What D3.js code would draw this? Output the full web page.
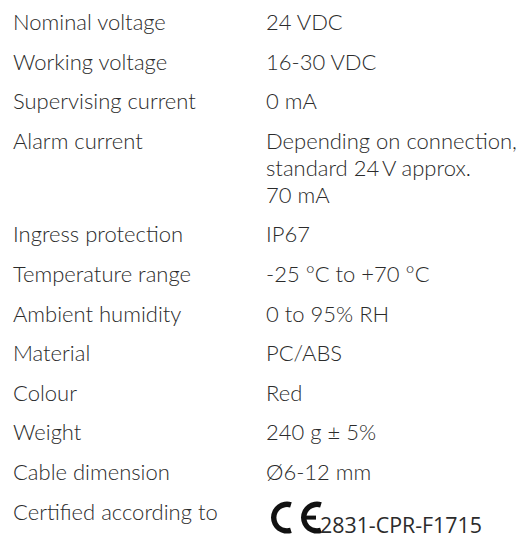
<!DOCTYPE html>
<html>
<head>
<meta charset="utf-8">
<script src="https://cdn.jsdelivr.net/npm/d3@7"></script>
<style>
  html, body { margin: 0; padding: 0; background: #ffffff; }
  svg { display: block; }
</style>
</head>
<body>
<svg id="chart" width="518" height="541"></svg>
<script>
// ---- data ----
const labels = [
  "Nominal voltage",
  "Working voltage",
  "Supervising current",
  "Alarm current",
  "Ingress protection",
  "Temperature range",
  "Ambient humidity",
  "Material",
  "Colour",
  "Weight",
  "Cable dimension",
  "Certified according to"
];
const values = [
  ["24 VDC"],
  ["16-30 VDC"],
  ["0 mA"],
  ["Depending on connection,", "standard 24\u2009V approx.", "70 mA"],
  ["IP67"],
  ["-25 °C to +70 °C"],
  ["0 to 95% RH"],
  ["PC/ABS"],
  ["Red"],
  ["240 g ± 5%"],
  ["Ø6-12 mm"],
  []
];
const certMark = "CE";
const certCode = "2831-CPR-F1715";

// ---- layout ----
const svg = d3.select("#chart");
const fontFamily = "Lato, 'Open Sans', sans-serif";
const fontSize = 22;
const textColor = "#2b2b2b";
const firstBaseline = 30;
const rowGap = 39.6;
const lineGap = 27;

const rowY = [];
let y = firstBaseline;
values.forEach(v => {
  rowY.push(y);
  const n = Math.max(1, v.length);
  y += (n - 1) * lineGap + rowGap;
});

const x = d3.scaleOrdinal().domain(["label", "value"]).range([13, 266]);

const rows = svg.selectAll("g.row")
  .data(labels.map((l, i) => ({ label: l, lines: values[i], y: rowY[i] })))
  .join("g")
  .attr("class", "row")
  .attr("transform", d => `translate(0,${d.y})`);

rows.append("text")
  .attr("x", x("label"))
  .attr("y", 0)
  .attr("font-family", fontFamily)
  .attr("font-weight", 300)
  .attr("font-size", fontSize)
  .attr("fill", textColor)
  .text(d => d.label);

rows.selectAll("text.val")
  .data(d => d.lines.map((t, j) => ({ t, j })))
  .join("text")
  .attr("class", "val")
  .attr("x", x("value"))
  .attr("y", d => d.j * lineGap)
  .attr("font-family", fontFamily)
  .attr("font-weight", 300)
  .attr("font-size", fontSize)
  .attr("fill", textColor)
  .text(d => d.t);

// ---- CE mark ----
const lastY = rowY[rowY.length - 1];
const R = 16, r = 10.6;
const ext = 0.3;
const arc = d3.arc().innerRadius(r).outerRadius(R)
  .startAngle(Math.PI - ext).endAngle(2 * Math.PI + ext);
const cy = lastY - 2;
const cC = x("value") + 5 + R;
const cE = x("value") + 35 + R;
const ce = svg.append("g").attr("class", "ce").attr("transform", `translate(0,${cy})`);
ce.append("title").text(certMark);
ce.append("path").attr("d", arc()).attr("fill", "#111")
  .attr("transform", `translate(${cC},0)`);
ce.append("path").attr("d", arc()).attr("fill", "#111")
  .attr("transform", `translate(${cE},0)`);
ce.append("rect")
  .attr("x", cE - R + 3)
  .attr("y", -2)
  .attr("width", R - 4)
  .attr("height", 4)
  .attr("fill", "#111");

const code = svg.append("text")
  .attr("x", 320)
  .attr("y", lastY + 13.5)
  .attr("font-family", "'Open Sans', sans-serif")
  .attr("font-size", 21)
  .attr("fill", textColor)
  .text(certCode);
// fit the code to its width in the reference
const w = code.node().getComputedTextLength();
code.attr("font-size", 21 * 162 / w);
</script>
</body>
</html>
